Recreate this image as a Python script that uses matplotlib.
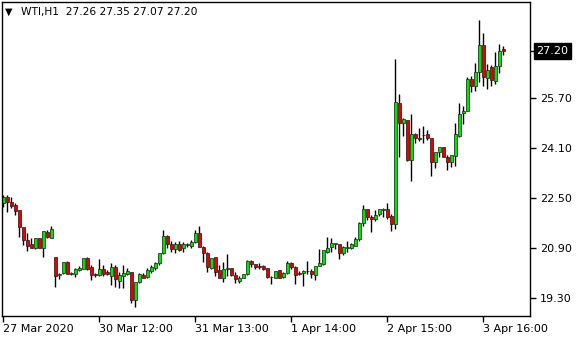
import matplotlib
matplotlib.use("Agg")
import matplotlib.pyplot as plt

# WTI H1 bars (open, high, low, close)
opens = [22.35, 22.54, 22.36, 22.28, 22.12, 21.56, 21.16, 21.03, 20.89, 21.21,
         20.89, 21.42, 21.21, 20.60, 20.05, 20.09, 20.46, 20.08, 20.07, 20.20,
         20.22, 20.57, 20.28, 20.06, 20.04, 20.22, 20.13, 20.01, 20.28, 19.85,
         20.00, 20.07, 20.12, 19.24, 19.82, 20.04, 19.98, 20.17, 20.25, 20.43,
         20.73, 21.28, 21.03, 20.87, 21.03, 20.89, 20.99, 20.97, 21.08, 21.37,
         20.94, 20.75, 20.25, 20.60, 20.20, 19.95, 20.23, 20.25, 20.04, 19.84,
         19.95, 20.06, 20.49, 20.38, 20.31, 20.32, 20.25, 19.98, 19.95, 20.20,
         19.98, 20.09, 20.41, 20.30, 20.09, 20.09, 20.16, 20.16, 20.04, 20.32,
         20.39, 20.78, 20.94, 21.04, 21.03, 20.75, 20.91, 20.89, 20.97, 21.19,
         21.69, 22.14, 21.88, 21.82, 21.98, 22.13, 22.14, 21.92, 21.66, 25.53,
         24.89, 24.99, 23.72, 24.54, 24.41, 24.50, 24.54, 24.41, 23.64, 23.98,
         24.12, 23.82, 23.64, 23.86, 24.49, 25.21, 25.29, 26.30, 26.09, 26.52,
         27.40, 26.35, 26.70, 26.25, 26.72, 27.26]
highs = [22.60, 22.60, 22.54, 22.33, 22.13, 21.57, 21.37, 21.21, 21.21, 21.21,
         21.44, 21.48, 21.61, 20.61, 20.11, 20.44, 20.48, 20.14, 20.25, 20.32,
         20.57, 20.60, 20.36, 20.09, 20.55, 20.36, 20.20, 20.43, 20.36, 20.13,
         20.35, 20.25, 20.12, 19.80, 20.09, 20.09, 20.25, 20.36, 20.46, 20.73,
         21.48, 21.32, 21.13, 21.08, 21.13, 21.08, 21.07, 21.16, 21.48, 21.60,
         20.95, 20.76, 20.58, 20.61, 20.36, 20.44, 20.70, 20.26, 20.12, 20.01,
         20.06, 20.52, 20.52, 20.38, 20.41, 20.36, 20.27, 20.00, 20.16, 20.20,
         20.14, 20.48, 20.46, 20.32, 20.16, 20.20, 20.48, 20.22, 20.32, 20.86,
         20.84, 21.26, 21.21, 21.07, 21.03, 20.97, 21.12, 21.05, 21.24, 21.74,
         22.28, 22.15, 21.96, 22.12, 22.15, 22.17, 22.33, 21.98, 26.95, 25.83,
         25.07, 25.00, 25.19, 24.57, 24.73, 24.80, 24.68, 24.41, 23.98, 24.12,
         24.14, 23.88, 23.88, 24.89, 25.55, 25.45, 26.38, 26.40, 26.83, 28.20,
         27.78, 26.80, 26.76, 27.18, 27.44, 27.35]
lows = [22.22, 22.04, 22.19, 21.96, 21.26, 21.00, 20.80, 20.89, 20.88, 20.89,
        20.60, 21.21, 21.21, 19.66, 19.91, 20.06, 20.06, 20.04, 19.98, 20.16,
        20.22, 20.20, 19.88, 19.98, 20.00, 20.00, 20.03, 19.72, 19.66, 19.61,
        19.61, 20.04, 19.13, 19.02, 19.79, 19.93, 19.95, 20.11, 20.20, 20.36,
        20.71, 20.89, 20.78, 20.73, 20.81, 20.76, 20.92, 20.89, 21.05, 20.94,
        20.46, 20.14, 20.24, 20.00, 19.93, 19.80, 20.00, 20.01, 19.77, 19.79,
        19.93, 20.04, 20.28, 20.22, 20.22, 20.20, 19.95, 19.75, 19.93, 19.93,
        19.95, 20.07, 20.22, 19.75, 20.04, 19.68, 20.06, 19.95, 19.88, 20.32,
        20.36, 20.73, 20.78, 20.87, 20.54, 20.68, 20.78, 20.86, 20.96, 21.12,
        21.61, 21.80, 21.42, 21.77, 21.92, 21.90, 21.82, 21.45, 21.50, 23.82,
        24.48, 23.69, 23.05, 24.25, 24.32, 24.25, 24.36, 23.21, 23.47, 23.82,
        23.80, 23.40, 23.48, 23.53, 24.46, 24.86, 25.29, 25.88, 25.93, 26.22,
        26.08, 26.00, 26.09, 26.15, 26.50, 27.07]
closes = [22.52, 22.36, 22.25, 22.09, 21.56, 21.16, 20.97, 20.89, 21.21, 20.89,
          21.44, 21.24, 21.51, 20.01, 20.07, 20.44, 20.07, 20.10, 20.23, 20.27,
          20.57, 20.22, 20.04, 20.05, 20.22, 20.07, 20.07, 20.28, 19.90, 20.03,
          20.09, 20.16, 19.24, 19.80, 20.06, 19.95, 20.20, 20.28, 20.41, 20.73,
          21.28, 21.02, 20.87, 21.03, 20.85, 21.03, 21.04, 21.08, 21.37, 20.94,
          20.75, 20.28, 20.57, 20.14, 19.95, 20.22, 20.25, 20.04, 19.90, 19.95,
          20.06, 20.48, 20.38, 20.30, 20.30, 20.22, 19.98, 19.97, 20.16, 19.95,
          20.11, 20.43, 20.28, 20.04, 20.08, 20.16, 20.17, 20.06, 20.32, 20.41,
          20.84, 20.91, 21.05, 21.05, 20.75, 20.94, 20.92, 21.02, 21.18, 21.69,
          22.14, 21.90, 21.82, 21.96, 22.14, 22.14, 21.88, 21.66, 25.56, 24.89,
          25.02, 23.72, 24.54, 24.41, 24.40, 24.52, 24.41, 23.66, 23.96, 24.12,
          23.82, 23.64, 23.88, 24.54, 25.18, 25.28, 26.30, 26.09, 26.54, 27.40,
          26.37, 26.60, 26.27, 26.72, 27.19, 27.20]

xtick_pos = [0, 24, 48, 72, 96, 120]
xtick_labels = ["27 Mar 2020", "30 Mar 12:00", "31 Mar 13:00",
                "1 Apr 14:00", "2 Apr 15:00", "3 Apr 16:00"]
ytick_vals = [19.30, 20.90, 22.50, 24.10, 25.70]
last_price = 27.20

plt.rcParams["font.family"] = "DejaVu Sans"

fig = plt.figure(figsize=(5.8, 3.4), dpi=100)
ax = fig.add_axes([2 / 580, 24 / 340, 528 / 580, 314 / 340])

# candles: wicks above/below the body, then body with thin black outline
for i in range(len(opens)):
    o, h, l, c = opens[i], highs[i], lows[i], closes[i]
    top, bot = max(o, c), min(o, c)
    ax.vlines(i, top, h, color="black", lw=1, zorder=1)
    ax.vlines(i, l, bot, color="black", lw=1, zorder=1)
    col = "#00e600" if c >= o else "#e60000"
    body = max(top - bot, 0.012)
    ax.bar(i, body, bottom=bot, width=0.75, color=col,
           edgecolor="black", linewidth=0.45, zorder=2)

ax.set_xlim(-0.25, 131.75)
ax.set_ylim(18.724, 28.772)

# y axis on the right
ax.yaxis.tick_right()
ax.set_yticks(ytick_vals + [last_price])
ax.set_yticklabels(["%.2f" % v for v in ytick_vals] + [""])
ax.tick_params(axis="y", direction="out", length=4, width=1, pad=3,
               labelsize=8, colors="black")

ax.set_xticks(xtick_pos)
ax.set_xticklabels(xtick_labels, ha="left")
ax.tick_params(axis="x", direction="out", length=4, width=1, pad=2,
               labelsize=8, colors="black")

for sp in ax.spines.values():
    sp.set_color("black")
    sp.set_linewidth(1)

# current price box
ax.text(1.012, last_price, "%.2f" % last_price, transform=ax.get_yaxis_transform(),
        ha="left", va="center", fontsize=8, color="white", clip_on=False,
        bbox=dict(boxstyle="square,pad=0.25", fc="black", ec="black"))

# header
fig.text(5 / 580, 1 - 12 / 340, "\u25bc", fontsize=7, va="center", ha="left")
fig.text(21 / 580, 1 - 12 / 340, "WTI,H1  27.26 27.35 27.07 27.20",
         fontsize=7.7, va="center", ha="left", color="black")

fig.savefig("out.png", dpi=100, facecolor="white")
